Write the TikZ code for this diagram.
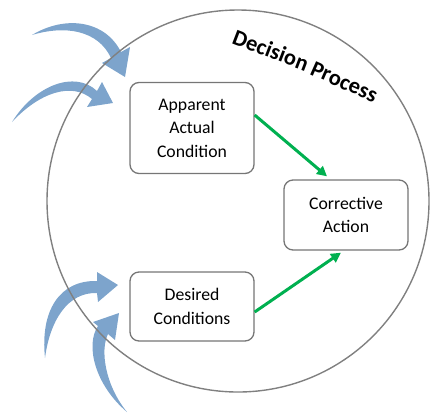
\documentclass[tikz,border=0pt]{standalone}
\usepackage{fontspec}
\setmainfont{Carlito}
\usetikzlibrary{arrows.meta,calc}
\definecolor{bluearr}{RGB}{125,164,204}
\definecolor{garr}{RGB}{0,176,80}
\definecolor{ringgray}{RGB}{128,128,128}
\definecolor{boxgray}{RGB}{118,118,118}
\begin{document}
\begin{tikzpicture}[x=1pt,y=-1pt,
  cbox/.style={draw=boxgray, line width=1.3pt, rounded corners=9pt, fill=white,
    inner sep=0pt, minimum width=124pt, align=center,
    font=\fontsize{17.7}{23.5}\selectfont},
  flow/.style={draw=garr, line width=3pt, -{Triangle[length=10pt,width=10pt]}},
  blowarrow/.style={fill=bluearr, draw=none},
  ring/.style={draw=ringgray, line width=1.4pt},
  titletext/.style={anchor=base west, inner sep=0pt,
    font=\bfseries\fontsize{22.5}{22.5}\selectfont}]
\useasboundingbox (0,0) rectangle (430,413);

% blue input arrows
\path[blowarrow] (32,35) .. controls (65,15) and (105,20) .. (121,52)
  -- (130,47) -- (125,77) -- (102,63) -- (111,58)
  .. controls (98,30) and (65,25) .. (32,35) -- cycle;
\path[blowarrow] (12,122) .. controls (35,85) and (75,70) .. (97,91)
  -- (102,82) -- (113,103) -- (87,107) -- (92,99)
  .. controls (72,82) and (40,92) .. (12,122) -- cycle;
\path[blowarrow] (45,358) .. controls (40,310) and (60,280) .. (97,281)
  -- (97,272) -- (118,285) -- (98,302) -- (97,293)
  .. controls (68,292) and (50,320) .. (45,358) -- cycle;
\path[blowarrow] (127,412) .. controls (95,385) and (85,345) .. (98,326)
  -- (93,322) -- (119,313) -- (115,340) -- (108,334)
  .. controls (100,350) and (105,385) .. (127,412) -- cycle;

% decision process ring
\draw[ring] (238,201) circle[radius=191pt];
\node[titletext, rotate=-21] (t1) at (231,43) {Decision};
\node[titletext, rotate=-24] (t2) at (309,74) {Process};

% boxes
\node[cbox, minimum height=91pt] (app) at (192,128) {Apparent\\Actual\\Condition};
\node[cbox, minimum height=70pt] (cor) at (346,215) {Corrective\\Action};
\node[cbox, minimum height=69pt] (des) at (192,306.5) {Desired\\Conditions};

% connectors
\draw[flow] ($(app.east)+(0,-13)$) -- ($(cor.north)+(-19,-3)$);
\draw[flow] ($(des.east)+(0,5.5)$) -- ($(cor.south)+(-5,2)$);
\end{tikzpicture}
\end{document}
